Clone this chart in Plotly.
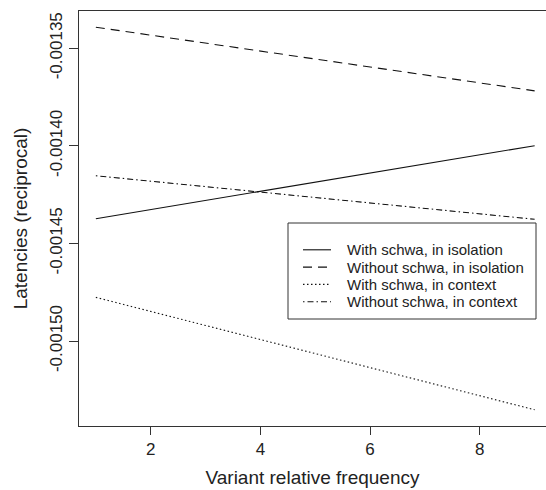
import plotly.graph_objects as go

# Data
freq = [1, 9]
with_schwa_isolation = [-0.0014373, -0.0013999]
without_schwa_isolation = [-0.0013392, -0.0013718]
with_schwa_context = [-0.0014776, -0.0015352]
without_schwa_context = [-0.0014153, -0.0014376]

series_names = [
    "With schwa, in isolation",
    "Without schwa, in isolation",
    "With schwa, in context",
    "Without schwa, in context",
]
series_values = [with_schwa_isolation, without_schwa_isolation,
                 with_schwa_context, without_schwa_context]
series_dash = ["solid", "9px,6px", "1.5px,2.5px", "1.5px,3px,6px,3px"]

x_ticks = [2, 4, 6, 8]
y_ticks = [-0.00150, -0.00145, -0.00140, -0.00135]
y_tick_labels = ["-0.00150", "-0.00145", "-0.00140", "-0.00135"]

FONT = "Liberation Sans, Arial, Helvetica, sans-serif"
W, H = 546, 490
ML, MR, MT, MB = 79, 0, 11, 64
PW, PH = W - ML - MR, H - MT - MB


def px_x(p):
    return (p - ML) / PW


def px_y(p):
    return (H - MB - p) / PH


fig = go.Figure()
for name, vals, dash in zip(series_names, series_values, series_dash):
    fig.add_trace(go.Scatter(
        x=freq, y=vals, mode="lines", name=name,
        line=dict(color="#111111", width=1.1, dash=dash),
    ))

# Legend drawn in R style (box, line samples, labels)
shapes = [dict(type="rect", xref="paper", yref="paper",
               x0=px_x(288), x1=px_x(536), y0=px_y(319), y1=px_y(223),
               line=dict(color="#333333", width=1), fillcolor="white", layer="above")]
annotations = []
row_y = [249.8, 267.1, 284.4, 301.7]
for name, dash, ry in zip(series_names, series_dash, row_y):
    shapes.append(dict(type="line", xref="paper", yref="paper",
                       x0=px_x(303), x1=px_x(331), y0=px_y(ry), y1=px_y(ry),
                       line=dict(color="#111111", width=1.1, dash=dash), layer="above"))
    annotations.append(dict(xref="paper", yref="paper", x=px_x(346), y=px_y(ry),
                            xanchor="left", yanchor="middle", showarrow=False,
                            borderpad=0,
                            text=name, font=dict(size=15, family=FONT, color="#222222")))

fig.update_layout(
    width=W, height=H,
    margin=dict(l=ML, r=MR, t=MT, b=MB),
    paper_bgcolor="white", plot_bgcolor="white",
    font=dict(family=FONT, color="#222222"),
    showlegend=False,
    shapes=shapes, annotations=annotations,
)

fig.update_xaxes(
    range=[0.693, 9.207], showgrid=False, zeroline=False,
    showline=True, mirror=True, linecolor="#333333", linewidth=1,
    ticks="outside", ticklen=8, tickcolor="#333333", tickwidth=1,
    tickvals=x_ticks, tickfont=dict(size=17, family=FONT),
    title=dict(text="Variant relative frequency", font=dict(size=19, family=FONT), standoff=12),
)
fig.update_yaxes(
    range=[-0.0015435, -0.0013309], showgrid=False, zeroline=False,
    showline=True, mirror=False, linecolor="#333333", linewidth=1,
    ticks="outside", ticklen=9, tickcolor="#333333", tickwidth=1,
    tickvals=y_ticks, ticktext=y_tick_labels, tickangle=-90,
    tickfont=dict(size=17, family=FONT),
    title=dict(text="Latencies (reciprocal)", font=dict(size=19, family=FONT), standoff=14),
)

fig.write_html("out.html")
